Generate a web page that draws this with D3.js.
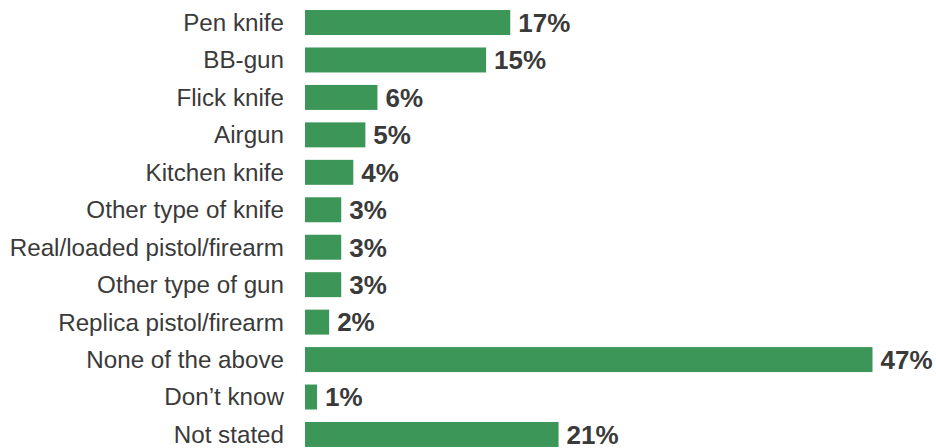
<!DOCTYPE html>
<html>
<head>
<meta charset="utf-8">
<script src="https://cdn.jsdelivr.net/npm/d3@7/dist/d3.min.js"></script>
<style>
  html, body { margin: 0; padding: 0; background: #ffffff; }
  svg { display: block; }
</style>
</head>
<body>
<svg id="chart" width="936" height="448"></svg>
<script>
// Items carried, share of respondents (%)
const categories = [
  "Pen knife",
  "BB-gun",
  "Flick knife",
  "Airgun",
  "Kitchen knife",
  "Other type of knife",
  "Real/loaded pistol/firearm",
  "Other type of gun",
  "Replica pistol/firearm",
  "None of the above",
  "Don\u2019t know",
  "Not stated"
];
const values = [17, 15, 6, 5, 4, 3, 3, 3, 2, 47, 1, 21];

const svg = d3.select("#chart");
const barLeft = 305;

const x = d3.scaleLinear()
  .domain([0, 47])
  .range([barLeft, 872.5]);

const y = d3.scaleBand()
  .domain(categories)
  .range([3.8, 453.2])
  .paddingInner(0.333)
  .paddingOuter(0.1665);

const rows = svg.selectAll("g.row")
  .data(categories.map((c, i) => ({ c, v: values[i] })))
  .join("g")
  .attr("class", "row");

rows.append("rect")
  .attr("x", x(0))
  .attr("y", d => y(d.c))
  .attr("width", d => x(d.v) - x(0))
  .attr("height", y.bandwidth())
  .attr("fill", "#3c9657");

rows.append("text")
  .attr("x", barLeft - 21)
  .attr("y", d => y(d.c) + y.bandwidth() / 2)
  .attr("dy", "0.35em")
  .attr("text-anchor", "end")
  .attr("font-family", "Liberation Sans, Arial, sans-serif")
  .attr("font-size", 24.2)
  .attr("fill", "#3a3a3a")
  .text(d => d.c);

rows.append("text")
  .attr("x", d => x(d.v) + 8)
  .attr("y", d => y(d.c) + y.bandwidth() / 2)
  .attr("dy", "0.36em")
  .attr("font-family", "Liberation Sans, Arial, sans-serif")
  .attr("font-size", 26)
  .attr("font-weight", "bold")
  .attr("fill", "#3a3a3a")
  .text(d => d.v + "%");
</script>
</body>
</html>
